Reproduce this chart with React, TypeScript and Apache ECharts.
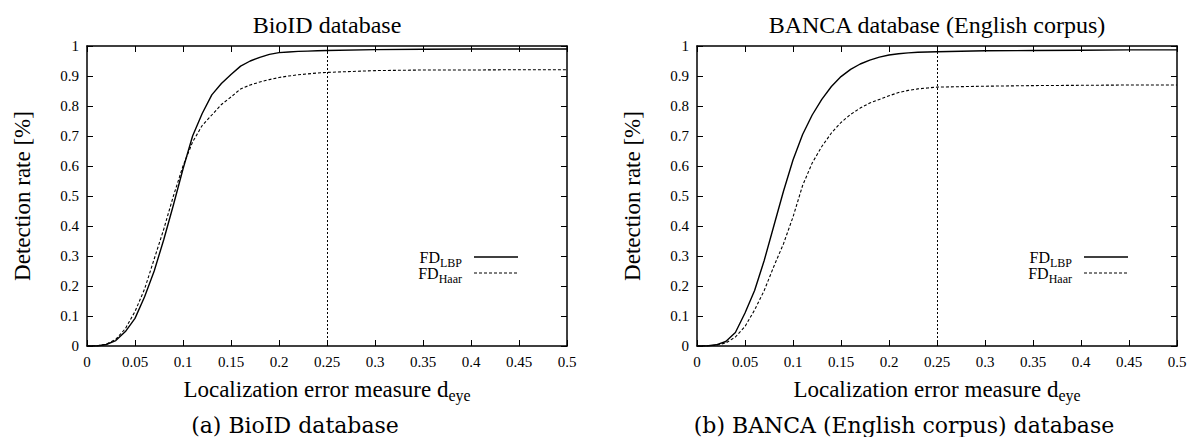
import React, { useEffect, useRef } from "react";
import * as echarts from "echarts";

// Localization error d_eye sample points
const errorSteps = [
  0, 0.01, 0.02, 0.03, 0.04, 0.05, 0.06, 0.07, 0.08, 0.09,
  0.1, 0.11, 0.12, 0.13, 0.14, 0.15, 0.16, 0.17, 0.18, 0.19,
  0.2, 0.21, 0.22, 0.23, 0.24, 0.25, 0.3, 0.35, 0.4, 0.45, 0.5,
];

// BioID database
const bioidLBP = [
  0, 0, 0.005, 0.018, 0.048, 0.092, 0.164, 0.25, 0.355, 0.47,
  0.59, 0.7, 0.775, 0.837, 0.875, 0.905, 0.933, 0.95, 0.962, 0.972,
  0.978, 0.98, 0.982, 0.983, 0.984, 0.985, 0.988, 0.989, 0.99, 0.99, 0.99,
];
const bioidHaar = [
  0, 0, 0.006, 0.022, 0.058, 0.115, 0.19, 0.29, 0.39, 0.5,
  0.6, 0.68, 0.735, 0.77, 0.805, 0.83, 0.857, 0.87, 0.88, 0.888,
  0.895, 0.9, 0.904, 0.907, 0.91, 0.912, 0.918, 0.92, 0.92, 0.921, 0.921,
];

// BANCA database (English corpus)
const bancaLBP = [
  0, 0, 0.004, 0.015, 0.045, 0.11, 0.185, 0.285, 0.4, 0.515,
  0.62, 0.705, 0.77, 0.822, 0.865, 0.898, 0.922, 0.94, 0.953, 0.963,
  0.97, 0.974, 0.977, 0.979, 0.98, 0.981, 0.984, 0.985, 0.986, 0.987, 0.987,
];
const bancaHaar = [
  0, 0, 0.003, 0.01, 0.03, 0.065, 0.12, 0.185, 0.265, 0.34,
  0.43, 0.535, 0.61, 0.665, 0.71, 0.745, 0.772, 0.793, 0.81, 0.822,
  0.834, 0.845, 0.852, 0.857, 0.86, 0.863, 0.866, 0.868, 0.869, 0.87, 0.87,
];

const threshold = 0.25;

const panelTitles = ["BioID database", "BANCA database (English corpus)"];
const captions = ["(a) BioID database", "(b) BANCA (English corpus) database"];
const legendNames = ["LBP", "Haar"];
const xName = "Localization error measure d";
const xNameSub = "eye";
const yName = "Detection rate [%]";

const FONT = "Liberation Serif, serif";
const CAP_FONT = "DejaVu Serif, serif";

const GRID_LEFTS = [87, 697];
const GRID_TOP = 46;
const GRID_W = 480;
const GRID_H = 300;

function pairs(xs: number[], ys: number[]) {
  return xs.map((x, i) => [x, ys[i]]);
}

export default function App() {
  const ref = useRef<HTMLDivElement>(null);

  useEffect(() => {
    if (!ref.current) return;
    const chart = echarts.init(ref.current, undefined, { renderer: "svg" });

    const axisLine = { show: true, onZero: false, lineStyle: { color: "#000", width: 1.5 } };
    const tick = { show: true, inside: true, length: 6, lineStyle: { color: "#000", width: 1 } };
    const label = { color: "#000", fontFamily: FONT, fontSize: 15, margin: 8 };

    const xAxes: any[] = [];
    const yAxes: any[] = [];
    [0, 1].forEach((g) => {
      xAxes.push({
        type: "value", gridIndex: g, position: "bottom", min: 0, max: 0.5, interval: 0.05,
        axisLine, axisTick: tick, axisLabel: label, splitLine: { show: false },
        name: xName + "{s|" + xNameSub + "}", nameLocation: "middle", nameGap: 29,
        nameTextStyle: {
          color: "#000", fontFamily: FONT, fontSize: 23, lineHeight: 28,
          rich: { s: { color: "#000", fontFamily: FONT, fontSize: 16, lineHeight: 14, verticalAlign: "bottom" } },
        },
      });
      xAxes.push({
        type: "value", gridIndex: g, position: "top", min: 0, max: 0.5, interval: 0.05,
        axisLine, axisTick: tick, axisLabel: { show: false }, splitLine: { show: false },
      });
      yAxes.push({
        type: "value", gridIndex: g, position: "left", min: 0, max: 1, interval: 0.1,
        axisLine, axisTick: tick, axisLabel: label, splitLine: { show: false },
        name: yName, nameLocation: "middle", nameGap: 53,
        nameTextStyle: { color: "#000", fontFamily: FONT, fontSize: 23 },
      });
      yAxes.push({
        type: "value", gridIndex: g, position: "right", min: 0, max: 1, interval: 0.1,
        axisLine, axisTick: tick, axisLabel: { show: false }, splitLine: { show: false },
      });
    });

    const datasets = [
      [bioidLBP, bioidHaar],
      [bancaLBP, bancaHaar],
    ];
    const series: any[] = [];
    datasets.forEach((pair, g) => {
      pair.forEach((vals, k) => {
        series.push({
          type: "line",
          name: "FD" + legendNames[k],
          xAxisIndex: g * 2,
          yAxisIndex: g * 2,
          data: pairs(errorSteps, vals),
          symbol: "none",
          showSymbol: false,
          lineStyle: k === 0
            ? { color: "#000", width: 1.4, type: "solid" }
            : { color: "#000", width: 1.1, type: [3, 2] },
          z: 3,
          markLine: k === 0
            ? {
                silent: true,
                symbol: ["none", "none"],
                label: { show: false },
                lineStyle: { color: "#000", width: 1, type: [2, 2] },
                data: [{ xAxis: threshold }],
                z: 1,
              }
            : undefined,
        });
      });
    });

    const graphics: any[] = [];
    GRID_LEFTS.forEach((left, g) => {
      graphics.push({
        type: "text",
        style: {
          text: panelTitles[g], x: left + GRID_W / 2, y: 25, align: "center", verticalAlign: "middle",
          fontFamily: FONT, fontSize: 24, fill: "#000",
        },
      });
      const legendRight = left + GRID_W - 105;
      legendNames.forEach((nm, k) => {
        const y = 257 + k * 16;
        graphics.push({
          type: "text",
          style: {
            text: "{n|FD}{s|" + nm + "}", x: legendRight, y, align: "right", verticalAlign: "middle",
            rich: {
              n: { fontFamily: FONT, fontSize: 16, lineHeight: 24, fill: "#000", color: "#000" },
              s: { fontFamily: FONT, fontSize: 12, lineHeight: 12, verticalAlign: "bottom", fill: "#000", color: "#000" },
            },
          },
        });
        graphics.push({
          type: "line",
          shape: { x1: legendRight + 12, y1: y, x2: legendRight + 56, y2: y },
          style: k === 0
            ? { stroke: "#000", lineWidth: 1.4 }
            : { stroke: "#000", lineWidth: 1.1, lineDash: [3, 2] },
        });
      });
    });
    const capCenters = [295, 904];
    capCenters.forEach((cx, g) => {
      graphics.push({
        type: "text",
        style: {
          text: captions[g], x: cx, y: 425, align: "center", verticalAlign: "middle",
          fontFamily: CAP_FONT, fontSize: 22, fill: "#000",
        },
      });
    });

    chart.setOption({
      animation: false,
      backgroundColor: "#fff",
      textStyle: { fontFamily: FONT, color: "#000" },
      grid: GRID_LEFTS.map((l) => ({ left: l, top: GRID_TOP, width: GRID_W, height: GRID_H, containLabel: false })),
      xAxis: xAxes,
      yAxis: yAxes,
      series,
      graphic: graphics,
    });

    return () => chart.dispose();
  }, []);

  return (
    <div
      ref={ref}
      style={{ position: "absolute", left: 0, top: 0, width: 1190, height: 437, background: "#fff" }}
    />
  );
}
